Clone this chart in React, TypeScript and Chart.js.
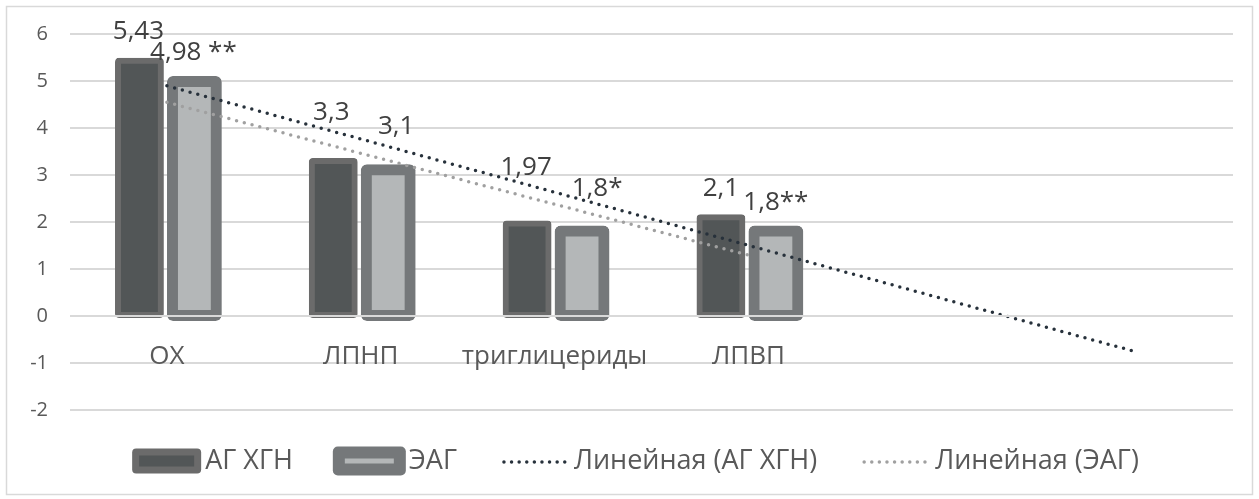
import { useEffect, useRef } from 'react';
import { Chart, registerables } from 'chart.js';

Chart.register(...registerables);

// Categories on the x axis (the last two slots only carry the forecast of the trend line)
const categories = ['ОХ', 'ЛПНП', 'триглицериды', 'ЛПВП', '', ''];

// Series values
const agHgnValues = [5.43, 3.3, 1.97, 2.1];
const eagValues = [4.98, 3.1, 1.8, 1.8];

// Significance marks appended to the value labels
const agHgnMarks = ['', '', '', ''];
const eagMarks = [' **', '', '*', '**'];

// Y axis range
const yMin = -2;
const yMax = 6;
const yStep = 1;

// Legend captions
const legendNames = ['АГ ХГН', 'ЭАГ', 'Линейная (АГ ХГН)', 'Линейная (ЭАГ)'];

const FONT = "'Open Sans', 'Noto Sans', sans-serif";
const TEXT_GREY = '#595959';
const LABEL_DARK = '#404040';
const GRID = '#d9d9d9';

const DARK_FILL = '#525657';
const DARK_EDGE = '#6b6b6b';
const LIGHT_FILL = '#b4b7b8';
const LIGHT_EDGE = '#75787a';
const TREND_DARK = '#27313b';
const TREND_LIGHT = '#a0a0a0';

// Least-squares linear trend, evaluated on positions 1..length
function linearTrend(values: number[], length: number): number[] {
  const n = values.length;
  const xs = values.map((_, i) => i + 1);
  const mx = xs.reduce((a, b) => a + b, 0) / n;
  const my = values.reduce((a, b) => a + b, 0) / n;
  let sxy = 0;
  let sxx = 0;
  for (let i = 0; i < n; i++) {
    sxy += (xs[i] - mx) * (values[i] - my);
    sxx += (xs[i] - mx) * (xs[i] - mx);
  }
  const slope = sxy / sxx;
  const intercept = my - slope * mx;
  return Array.from({ length }, (_, i) => intercept + slope * (i + 1));
}

const fmt = (v: number) => String(v).replace('.', ',');

// Value labels above the bars; each label can be nudged by [dx, dy]
const valueLabelsPlugin = {
  id: 'valueLabels',
  afterDatasetsDraw(chart: any, _args: any, opts: any) {
    const ctx = chart.ctx;
    ctx.save();
    ctx.font = `26px ${FONT}`;
    ctx.fillStyle = LABEL_DARK;
    ctx.textAlign = 'center';
    ctx.textBaseline = 'middle';
    opts.series.forEach((s: any) => {
      const meta = chart.getDatasetMeta(s.dataset);
      meta.data.forEach((el: any, i: number) => {
        const v = chart.data.datasets[s.dataset].data[i];
        const [dx, dy] = s.shift[i];
        ctx.fillText(fmt(v) + s.marks[i], el.x + dx, el.y - opts.lift + dy);
      });
    });
    ctx.restore();
  },
};

// Axis line at zero (drawn over the bars) and category captions just below it
const categoryAxisPlugin = {
  id: 'categoryAxis',
  afterDatasetsDraw(chart: any) {
    const { ctx, chartArea, scales } = chart;
    const y0 = scales.y.getPixelForValue(0);
    ctx.save();
    ctx.strokeStyle = GRID;
    ctx.lineWidth = 2;
    ctx.beginPath();
    ctx.moveTo(chartArea.left, y0);
    ctx.lineTo(chartArea.right, y0);
    ctx.stroke();
    ctx.font = `26px ${FONT}`;
    ctx.fillStyle = TEXT_GREY;
    ctx.textAlign = 'center';
    ctx.textBaseline = 'alphabetic';
    chart.data.labels.forEach((lab: string, i: number) => {
      if (!lab) return;
      ctx.fillText(lab, scales.x.getPixelForValue(i), y0 + 48);
    });
    ctx.restore();
  },
};

// Bottom legend plus the outer frame of the chart
const legendFramePlugin = {
  id: 'legendFrame',
  afterDraw(chart: any) {
    const ctx = chart.ctx;
    const W = chart.width;
    ctx.save();
    ctx.strokeStyle = GRID;
    ctx.lineWidth = 1.5;
    ctx.strokeRect(6.5, 6.5, W - 13, chart.height - 11);

    ctx.font = `27px ${FONT}`;
    ctx.textBaseline = 'middle';
    ctx.textAlign = 'left';
    const cy = 461;
    const items = [
      { kind: 'bar', w: 69, h: 25, inset: 7, edge: DARK_EDGE, fill: DARK_FILL, r: 4, gapText: 4, gapAfter: 40 },
      { kind: 'bar', w: 73, h: 29, inset: 12, edge: LIGHT_EDGE, fill: LIGHT_FILL, r: 5, gapText: 3, gapAfter: 45 },
      { kind: 'dots', w: 66, color: TREND_DARK, gapText: 6, gapAfter: 45 },
      { kind: 'dots', w: 68, color: TREND_LIGHT, gapText: 5, gapAfter: 0 },
    ];
    const widths = items.map((it, i) => it.w + it.gapText + ctx.measureText(legendNames[i]).width + it.gapAfter);
    const total = widths.reduce((a, b) => a + b, 0);
    let x = W / 2 - total / 2 + 6;
    items.forEach((it: any, i: number) => {
      if (it.kind === 'bar') {
        ctx.fillStyle = it.edge;
        ctx.beginPath();
        ctx.roundRect(x, cy - it.h / 2, it.w, it.h, it.r);
        ctx.fill();
        ctx.fillStyle = it.fill;
        ctx.fillRect(x + it.inset, cy - it.h / 2 + it.inset, it.w - 2 * it.inset, it.h - 2 * it.inset);
      } else {
        ctx.strokeStyle = it.color;
        ctx.lineWidth = 3.5;
        ctx.lineCap = 'round';
        ctx.setLineDash([0, 7.6]);
        ctx.beginPath();
        ctx.moveTo(x + 2, cy + 1);
        ctx.lineTo(x + it.w, cy + 1);
        ctx.stroke();
        ctx.setLineDash([]);
      }
      ctx.fillStyle = TEXT_GREY;
      ctx.fillText(legendNames[i], x + it.w + it.gapText, cy);
      x += widths[i];
    });
    ctx.restore();
  },
};

export default function App() {
  const canvasRef = useRef<HTMLCanvasElement | null>(null);

  useEffect(() => {
    if (!canvasRef.current) return;
    const trendAg = linearTrend(agHgnValues, categories.length);
    const trendEag = linearTrend(eagValues, eagValues.length);

    const chart = new Chart(canvasRef.current, {
      type: 'bar',
      data: {
        labels: categories,
        datasets: [
          {
            type: 'bar',
            label: legendNames[0],
            data: agHgnValues,
            backgroundColor: DARK_FILL,
            borderColor: DARK_EDGE,
            borderWidth: 6,
            borderSkipped: false,
            borderRadius: 4,
            inflateAmount: 3,
            categoryPercentage: 0.567,
            barPercentage: 0.78,
            order: 2,
          } as any,
          {
            type: 'bar',
            label: legendNames[1],
            data: eagValues,
            backgroundColor: LIGHT_FILL,
            borderColor: LIGHT_EDGE,
            borderWidth: 11,
            borderSkipped: false,
            borderRadius: 6,
            inflateAmount: 6,
            categoryPercentage: 0.567,
            barPercentage: 0.78,
            order: 2,
          } as any,
          {
            type: 'line',
            label: legendNames[2],
            data: trendAg,
            borderColor: TREND_DARK,
            borderWidth: 3.5,
            borderDash: [0, 8],
            borderCapStyle: 'round',
            pointRadius: 0,
            tension: 0,
            fill: false,
            order: 1,
          } as any,
          {
            type: 'line',
            label: legendNames[3],
            data: trendEag,
            borderColor: TREND_LIGHT,
            borderWidth: 3.5,
            borderDash: [0, 8],
            borderCapStyle: 'round',
            pointRadius: 0,
            tension: 0,
            fill: false,
            order: 1,
          } as any,
        ],
      },
      options: {
        responsive: false,
        animation: false,
        events: [],
        layout: { padding: { top: 34, right: 26, bottom: 89, left: 0 } },
        plugins: {
          legend: { display: false },
          tooltip: { enabled: false },
          valueLabels: {
            lift: 29,
            series: [
              { dataset: 0, marks: agHgnMarks, shift: [[-1, 0], [-2, -19], [-1, -27], [0, 0]] },
              { dataset: 1, marks: eagMarks, shift: [[-1, 0], [8, -15], [15, -14], [0, 0]] },
            ],
          },
        } as any,
        scales: {
          x: { type: 'category', display: false, offset: true },
          y: {
            min: yMin,
            max: yMax,
            ticks: {
              stepSize: yStep,
              color: TEXT_GREY,
              font: { family: FONT, size: 20 },
              padding: 22,
              callback: (v: any) => String(v),
            },
            grid: { color: GRID, lineWidth: 2, drawTicks: false },
            border: { display: false },
            afterFit: (s: any) => {
              s.width = 70;
            },
          } as any,
        },
      },
      plugins: [categoryAxisPlugin, valueLabelsPlugin, legendFramePlugin],
    });
    return () => chart.destroy();
  }, []);

  return (
    <div style={{ position: 'fixed', left: 0, top: 0, width: 1259, height: 499, background: '#ffffff' }}>
      <canvas ref={canvasRef} width={1259} height={499} style={{ width: 1259, height: 499, display: 'block' }} />
    </div>
  );
}
